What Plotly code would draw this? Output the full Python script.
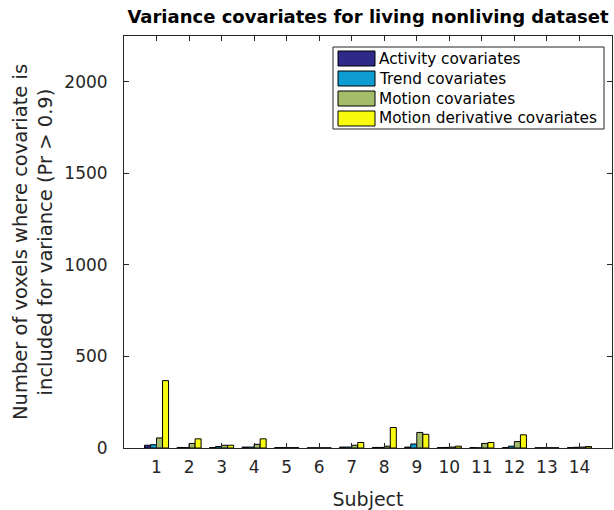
import plotly.graph_objects as go

subjects = list(range(1, 15))
tick_labels = [str(s) for s in subjects]
activity = [15, 3, 2, 5, 2, 1, 5, 3, 5, 2, 2, 2, 1, 2]
trend = [18, 2, 8, 5, 2, 1, 5, 3, 22, 3, 1, 10, 1, 4]
motion = [55, 25, 15, 20, 2, 1, 15, 10, 85, 5, 25, 35, 1, 5]
motion_deriv = [368, 50, 15, 50, 2, 1, 30, 112, 75, 10, 30, 72, 1, 8]

series = [
    ("Activity covariates", activity, "#2e2a8a"),
    ("Trend covariates", trend, "#0d9dd0"),
    ("Motion covariates", motion, "#a3bd6a"),
    ("Motion derivative covariates", motion_deriv, "#f9fb0e"),
]

fig = go.Figure()
for name, vals, col in series:
    fig.add_trace(go.Bar(
        x=subjects, y=vals, name=name, showlegend=False,
        marker=dict(color=col, line=dict(color="black", width=1)),
    ))

font_family = "DejaVu Sans"
axis_col = "#262626"

# plot area in pixels
PL, PR, PT, PB = 124, 612, 36, 448
def px(x):
    return (x - PL) / (PR - PL)
def py(y):
    return (PB - y) / (PB - PT)

shapes = []
annotations = []
# legend box
shapes.append(dict(type="rect", xref="paper", yref="paper",
                   x0=px(333), x1=px(604), y0=py(129), y1=py(47),
                   line=dict(color=axis_col, width=1), fillcolor="white", layer="above"))
for i, (name, vals, col) in enumerate(series):
    top = 51 + 20 * i
    shapes.append(dict(type="rect", xref="paper", yref="paper",
                       x0=px(338), x1=px(375), y0=py(top + 15), y1=py(top),
                       line=dict(color="black", width=1), fillcolor=col, layer="above"))
    annotations.append(dict(xref="paper", yref="paper", x=px(377), y=py(top + 7.5),
                            xanchor="left", yanchor="middle", showarrow=False,
                            text=name, font=dict(size=15.3, color="black", family=font_family)))

fig.update_layout(
    width=614, height=510,
    margin=dict(l=PL, r=614 - PR, t=PT, b=510 - PB),
    paper_bgcolor="white", plot_bgcolor="white",
    barmode="group", bargap=0.26, bargroupgap=0.0,
    font=dict(family=font_family, color=axis_col),
    showlegend=False,
    shapes=shapes, annotations=annotations,
    title=dict(
        text="<b>Variance covariates for living nonliving dataset</b>",
        x=0.5, xref="paper", xanchor="center",
        y=0.967, yref="container", yanchor="middle",
        font=dict(size=18, color="black", family=font_family),
    ),
    xaxis=dict(
        range=[0, 15], tickmode="array", tickvals=subjects, ticktext=tick_labels,
        ticks="inside", ticklen=5, tickcolor=axis_col,
        showline=True, linecolor=axis_col, linewidth=1, mirror="ticks",
        showgrid=False, zeroline=False, ticklabelstandoff=4,
        tickfont=dict(size=17, color=axis_col),
        title=dict(text="Subject", font=dict(size=19, color=axis_col), standoff=16),
    ),
    yaxis=dict(
        range=[0, 2250], tickvals=[0, 500, 1000, 1500, 2000],
        ticks="inside", ticklen=5, tickcolor=axis_col,
        showline=True, linecolor=axis_col, linewidth=1, mirror="ticks",
        showgrid=False, zeroline=False, ticklabelstandoff=12,
        tickfont=dict(size=17, color=axis_col),
        title=dict(text="Number of voxels where covariate is<br>included for variance (Pr > 0.9)",
                   font=dict(size=19.5, color=axis_col), standoff=6),
    ),
)

fig.write_html("out.html")
